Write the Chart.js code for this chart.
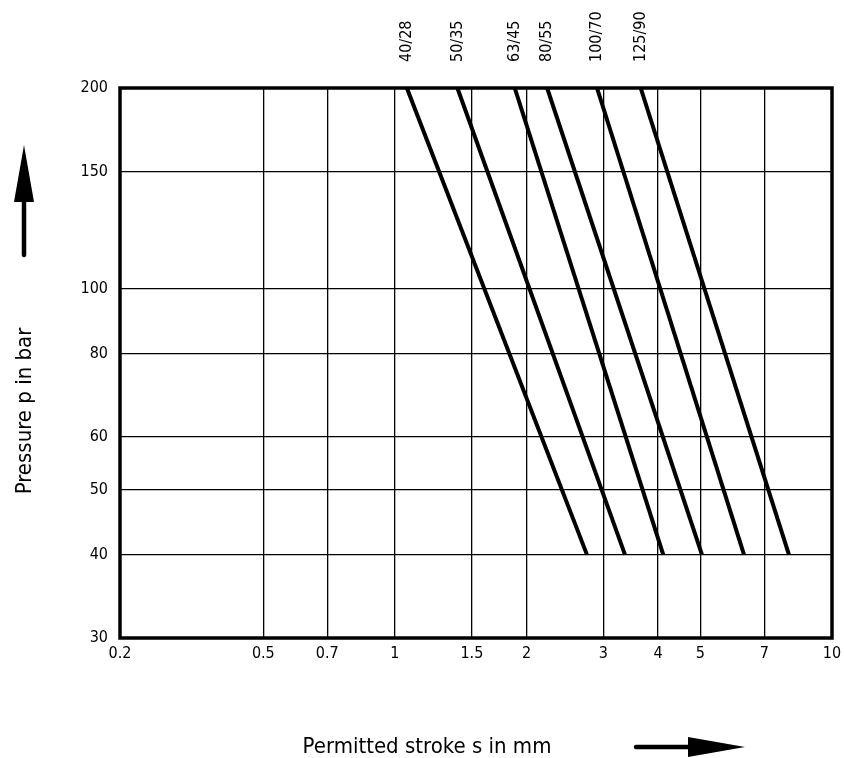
<!DOCTYPE html>
<html>
<head>
<meta charset="utf-8">
<script src="https://cdn.jsdelivr.net/npm/chart.js@4/dist/chart.umd.min.js"></script>
<style>
  html, body { margin: 0; padding: 0; background: #fff; overflow: hidden; }
  #wrap { width: 844px; height: 758px; }
</style>
</head>
<body>
<div id="wrap"><canvas id="chart"></canvas></div>
<script>
const FONT = "'Liberation Sans Narrow', 'DejaVu Sans Condensed', sans-serif"

// cylinder sizes (piston / rod)
const seriesNames = ['40/28', '50/35', '63/45', '80/55', '100/70', '125/90']
// stroke s in mm at p = 200 bar and p = 40 bar
const strokeAt200 = [1.065, 1.39, 1.88, 2.23, 2.90, 3.65]
const strokeAt40 = [2.75, 3.36, 4.11, 5.04, 6.29, 7.97]
const pressures = [200, 40]

const xTickValues = [0.235, 0.5, 0.7, 1, 1.5, 2, 3, 4, 5, 7, 10]
const xTickLabels = ['0.2', '0.5', '0.7', '1', '1.5', '2', '3', '4', '5', '7', '10']
const yTickValues = [30, 40, 50, 60, 80, 100, 150, 200]

const datasets = []
for (let i = 0; i < seriesNames.length; i++) {
  datasets.push({
    label: seriesNames[i],
    data: [
      { x: strokeAt200[i], y: pressures[0] },
      { x: strokeAt40[i], y: pressures[1] }
    ],
    showLine: true,
    borderColor: '#000',
    borderWidth: 4,
    pointRadius: 0,
    borderCapStyle: 'butt'
  })
}

const drawArrow = (ctx, x1, y1, x2, y2, headLen, headHalf, shaft) => {
  const ang = Math.atan2(y2 - y1, x2 - x1)
  const len = Math.hypot(x2 - x1, y2 - y1)
  ctx.save()
  ctx.translate(x1, y1)
  ctx.rotate(ang)
  ctx.strokeStyle = '#000'
  ctx.fillStyle = '#000'
  ctx.lineWidth = shaft
  ctx.lineCap = 'round'
  ctx.beginPath()
  ctx.moveTo(0, 0)
  ctx.lineTo(len - headLen + 1, 0)
  ctx.stroke()
  ctx.beginPath()
  ctx.moveTo(len, 0)
  ctx.lineTo(len - headLen, -headHalf)
  ctx.lineTo(len - headLen, headHalf)
  ctx.closePath()
  ctx.fill()
  ctx.restore()
}

const decor = {
  id: 'decor',
  afterDraw(chart) {
    const { ctx, chartArea, scales } = chart
    ctx.save()
    // frame
    ctx.strokeStyle = '#000'
    ctx.lineWidth = 3.5
    ctx.strokeRect(chartArea.left, chartArea.top, chartArea.right - chartArea.left, chartArea.bottom - chartArea.top)

    // series labels above the plot
    ctx.fillStyle = '#000'
    ctx.font = '16px ' + FONT
    ctx.textAlign = 'left'
    ctx.textBaseline = 'middle'
    for (let i = 0; i < seriesNames.length; i++) {
      const x = scales.x.getPixelForValue(strokeAt200[i])
      ctx.save()
      ctx.translate(x, 62)
      ctx.rotate(-Math.PI / 2)
      ctx.fillText(seriesNames[i], 0, 0)
      ctx.restore()
    }

    // axis titles
    ctx.font = '22px ' + FONT
    ctx.textAlign = 'center'
    ctx.save()
    ctx.translate(25, 411)
    ctx.rotate(-Math.PI / 2)
    ctx.fillText('Pressure p in bar', 0, 0)
    ctx.restore()
    ctx.fillText('Permitted stroke s in mm', 427, 747)

    // arrows
    drawArrow(ctx, 24, 255, 24, 145, 57, 10, 4.5)
    drawArrow(ctx, 636, 747, 745, 747, 57, 10, 4.5)
    ctx.restore()
  }
}

new Chart(document.getElementById('chart').getContext('2d'), {
  type: 'scatter',
  data: { datasets: datasets },
  options: {
    responsive: true,
    maintainAspectRatio: false,
    animation: false,
    layout: { padding: { top: 88, right: 12, left: 0, bottom: 0 } },
    plugins: {
      legend: { display: false },
      tooltip: { enabled: false }
    },
    scales: {
      x: {
        type: 'logarithmic',
        min: 0.235,
        max: 10,
        afterFit(scale) {
          scale.height = 120
          scale.paddingLeft = 0
          scale.paddingRight = 0
        },
        afterBuildTicks(scale) { scale.ticks = xTickValues.map(v => ({ value: v })) },
        ticks: {
          color: '#000',
          font: { family: FONT, size: 16 },
          padding: 6,
          maxRotation: 0,
          autoSkip: false,
          callback: (value, index) => xTickLabels[index]
        },
        grid: { color: '#000', lineWidth: 1.3, drawTicks: false },
        border: { display: false }
      },
      y: {
        type: 'logarithmic',
        min: 30,
        max: 200,
        afterFit(scale) {
          scale.width = 120
          scale.paddingTop = 0
          scale.paddingBottom = 0
        },
        afterBuildTicks(scale) { scale.ticks = yTickValues.map(v => ({ value: v })) },
        ticks: {
          color: '#000',
          font: { family: FONT, size: 16 },
          padding: 12,
          autoSkip: false,
          callback: value => String(value)
        },
        grid: { color: '#000', lineWidth: 1.3, drawTicks: false },
        border: { display: false }
      }
    }
  },
  plugins: [decor]
})
</script>
</body>
</html>
